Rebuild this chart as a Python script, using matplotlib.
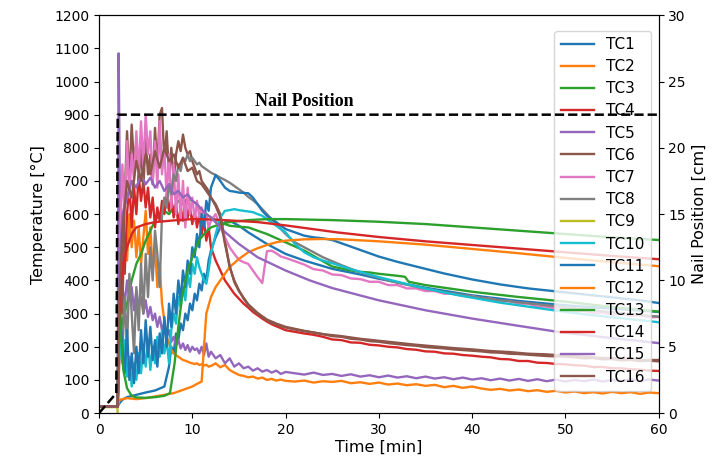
import numpy as np
import matplotlib.pyplot as plt

# logging times for the noisy channels [min]
t_grid = np.concatenate([[0, 1.9, 2.0, 2.1],
                         np.arange(2.25, 12.01, 0.25),
                         np.arange(12.5, 20.01, 0.5),
                         np.arange(21, 61, 1)])

# channels read on t_grid (head, 2.25-12 in 1-min blocks, 12.5-20, 21-60)
tc2 = [20, 20, 20, 100,
       250, 400, 520, 460, 600, 500, 580, 470, 560, 450, 530, 610, 480, 560, 430, 500,
       380, 450, 330, 280, 230, 210, 190, 180, 175, 170, 165, 160, 158, 155, 152, 150,
       148, 150, 145, 147, 143, 146, 140, 142,
       150, 138, 145, 130, 122, 115, 112, 108, 110, 104, 107, 100, 103, 98, 101, 97,
       95, 98, 92, 96, 94, 97, 90, 93, 88, 92,
       86, 89, 84, 87, 82, 85, 78, 82, 76, 80,
       74, 70, 73, 68, 71, 66, 69, 64, 67, 62,
       65, 60, 63, 59, 64, 60, 63, 58, 62, 60]
tc4 = [20, 20, 20, 100,
       350, 500, 420, 600, 690, 560, 680, 600, 720, 640, 700, 620, 680, 590, 650, 560,
       620, 580, 640, 600, 660, 610, 650, 590, 630, 570, 620, 580, 640, 590, 620, 570,
       610, 560, 600, 540, 580, 520, 560, 500,
       460, 430, 400, 380, 360, 345, 330, 318, 305, 295, 285, 276, 268, 262, 256, 250,
       245, 240, 236, 230, 222, 220, 213, 212, 206, 204,
       200, 198, 193, 191, 186, 185, 180, 179, 175, 173,
       170, 168, 163, 162, 157, 157, 152, 151, 148, 147,
       144, 143, 139, 139, 135, 135, 132, 131, 128, 127]
tc5 = [20, 20, 20, 1085,
       600, 380, 330, 400, 340, 380, 310, 370, 320, 350, 300, 340, 290, 320, 280, 300,
       260, 290, 250, 270, 230, 250, 215, 230, 205, 220, 195, 210, 190, 205, 185, 200,
       190, 195, 180, 200, 175, 210, 170, 185,
       165, 175, 150, 165, 140, 150, 135, 140, 128, 135, 125, 130, 122, 128, 118, 124,
       120, 116, 122, 115, 118, 112, 117, 110, 114, 108,
       113, 107, 111, 105, 110, 104, 108, 102, 107, 101,
       105, 99, 104, 98, 103, 97, 102, 96, 101, 95,
       100, 96, 101, 95, 100, 96, 102, 97, 101, 98]
tc6 = [20, 20, 20, 150,
       400, 300, 650, 850, 700, 870, 750, 820, 700, 800, 680, 830, 720, 780, 690, 860,
       740, 900, 920, 760, 850, 720, 800, 700, 780, 820, 790, 840, 800, 780, 790, 760,
       740, 720, 730, 700, 690, 680, 670, 650,
       630, 600, 520, 440, 400, 370, 345, 325, 312, 300, 290, 280, 272, 268, 262, 258,
       252, 247, 243, 238, 232, 230, 224, 222, 217, 215,
       211, 208, 205, 203, 199, 197, 195, 192, 190, 188,
       186, 183, 182, 179, 178, 176, 174, 172, 171, 170,
       168, 165, 166, 162, 163, 159, 160, 157, 158, 156]
tc7 = [20, 20, 20, 200,
       500, 750, 600, 820, 650, 780, 700, 850, 720, 880, 740, 900, 780, 850, 700, 820,
       680, 880, 720, 800, 650, 780, 620, 750, 600, 720, 580, 700, 560, 680, 600, 650,
       580, 640, 590, 620, 570, 600, 560, 580,
       600, 560, 530, 500, 480, 462, 455, 450, 430, 410, 392, 488, 490, 482, 472, 468,
       458, 448, 434, 430, 418, 416, 406, 404, 396, 396,
       386, 386, 376, 376, 368, 368, 360, 360, 353, 353,
       345, 345, 338, 338, 330, 330, 321, 321, 314, 314,
       307, 308, 302, 303, 297, 299, 293, 295, 289, 290]
tc8 = [20, 20, 20, 100,
       250, 180, 350, 200, 420, 300, 180, 380, 250, 450, 300, 480, 350, 500, 400, 550,
       480, 380, 600, 650, 620, 690, 660, 720, 700, 750, 730, 770, 760, 780, 760, 770,
       760, 750, 755, 745, 740, 735, 730, 725,
       718, 710, 703, 695, 685, 675, 665, 652, 642, 630, 615, 600, 585, 570, 555, 540,
       515, 500, 485, 470, 458, 446, 435, 425, 416, 408,
       400, 393, 387, 381, 375, 370, 365, 360, 356, 352,
       348, 344, 340, 337, 334, 331, 328, 325, 322, 319,
       316, 313, 310, 307, 304, 301, 298, 296, 293, 291]
tc10 = [20, 20, 20, 350,
        200, 150, 220, 110, 170, 80, 150, 100, 180, 120, 200, 140, 220, 130, 200, 150,
        230, 170, 250, 180, 220, 150, 250, 300, 270, 350, 320, 380, 340, 420, 380, 450,
        420, 470, 440, 420, 400, 390, 430, 480,
        540, 590, 610, 612, 615, 612, 610, 608, 606, 600, 595, 585, 575, 565, 555, 545,
        510, 485, 470, 460, 452, 443, 434, 426, 418, 410,
        403, 396, 389, 382, 376, 370, 364, 358, 353, 348,
        343, 338, 333, 329, 325, 321, 317, 313, 309, 305,
        302, 298, 295, 292, 289, 286, 283, 280, 277, 274]
tc11 = [20, 20, 20, 380,
        300, 200, 120, 250, 100, 180, 90, 200, 120, 250, 150, 280, 170, 260, 160, 220,
        140, 240, 180, 290, 200, 330, 260, 360, 300, 400, 340, 430, 380, 460, 420, 500,
        470, 540, 500, 600, 560, 640, 610, 680,
        718, 700, 680, 670, 668, 665, 664, 663, 650, 630, 610, 595, 585, 576, 565, 555,
        545, 535, 530, 527, 522, 512, 502, 492, 482, 472,
        464, 456, 449, 442, 435, 428, 421, 415, 409, 403,
        398, 393, 388, 384, 380, 376, 373, 370, 367, 364,
        361, 358, 355, 352, 349, 346, 343, 340, 336, 332]

# channels read at their own times: (min, degC)
tc1 = [(0, 20), (1.9, 20), (2.0, 20), (2.2, 30), (2.5, 40), (3, 48), (4, 55), (5, 62),
       (6, 68), (7, 80), (7.5, 140), (7.75, 200), (8, 180), (8.25, 240), (8.5, 220),
       (8.75, 270), (9, 250), (9.25, 300), (9.5, 280), (9.75, 330), (10, 310),
       (10.25, 360), (10.5, 340), (10.75, 390), (11, 370), (11.25, 420), (11.5, 400),
       (11.75, 460), (12, 490), (12.5, 530), (13, 560), (13.5, 575), (14, 580),
       (15, 565), (16, 545), (18, 510), (20, 480), (22, 460), (25, 435), (28, 418),
       (30, 405), (35, 378), (40, 355), (45, 338), (50, 325), (55, 315), (60, 305)]
tc3 = [(0, 20), (1.9, 20), (2.0, 20), (2.1, 200), (2.5, 280), (3, 330), (3.5, 400),
       (4, 450), (4.5, 480), (5, 520), (5.5, 550), (6, 580), (6.5, 600), (7, 610),
       (7.5, 600), (8, 620), (8.5, 640), (9, 630), (9.5, 650), (10, 640), (10.5, 630),
       (11, 610), (12, 590), (13, 575), (14, 565), (15, 562), (16, 560), (18, 540),
       (20, 515), (22, 490), (25, 442), (27, 430), (28, 426), (29, 424), (30, 420),
       (31, 417), (32, 414), (32.8, 411), (33.2, 396), (35, 386), (40, 366), (45, 350),
       (50, 336), (55, 320), (60, 306)]
tc9 = [(0, 18), (1.95, 18), (2.0, 0)]
tc12 = [(0, 20), (1.9, 20), (2.0, 20), (2.2, 40), (3, 45), (4, 42), (5, 45), (6, 50),
        (7, 55), (8, 60), (9, 70), (10, 80), (10.5, 88), (11, 95), (11.25, 200),
        (11.5, 300), (12, 350), (12.5, 380), (13, 400), (14, 440), (15, 465), (16, 485),
        (17, 497), (18, 507), (19, 515), (20, 520), (22, 524), (24, 525), (26, 524),
        (28, 521), (30, 518), (35, 508), (40, 495), (45, 482), (50, 468), (55, 455),
        (60, 443)]
tc13 = [(0, 20), (1.9, 20), (2.0, 20), (2.1, 380), (2.3, 250), (2.6, 130), (3, 75),
        (3.5, 52), (4, 47), (5, 46), (6, 48), (7, 52), (7.6, 60), (8.1, 150), (8.5, 260),
        (8.9, 350), (9.5, 430), (10, 470), (10.7, 520), (11.4, 545), (12, 560), (13, 570),
        (14, 576), (16, 582), (18, 585), (20, 585), (25, 582), (30, 577), (35, 570),
        (40, 560), (45, 550), (50, 540), (55, 530), (60, 522)]
tc14 = [(0, 20), (1.9, 20), (2.0, 20), (2.1, 250), (2.3, 380), (2.6, 450), (3, 500),
        (3.5, 540), (4, 560), (5, 570), (6, 576), (8, 581), (10, 585), (12, 584),
        (14, 581), (17, 576), (20, 566), (25.5, 545), (30, 531), (35, 518), (40, 507),
        (45, 496), (50, 485), (55, 474), (60, 464)]
tc15 = [(0, 20), (1.9, 20), (2.0, 20), (2.1, 400), (2.5, 600), (3, 650), (3.5, 700),
        (4, 680), (4.5, 720), (5, 690), (5.5, 710), (6, 680), (6.5, 700), (7, 670),
        (7.5, 690), (8, 660), (8.5, 670), (9, 650), (9.5, 660), (10, 640), (10.5, 630),
        (11, 615), (11.5, 600), (12, 590), (12.5, 575), (13, 560), (13.5, 546), (15, 510),
        (17, 470), (20, 430), (22.6, 400), (25, 377), (30, 340), (35, 310), (40, 285),
        (45, 263), (49.4, 244), (55, 226), (60, 211)]
tc16 = [(0, 20), (1.9, 20), (2.0, 20), (2.1, 300), (2.5, 550), (3, 700), (3.5, 650),
        (4, 760), (4.5, 700), (5, 780), (5.5, 720), (6, 790), (6.5, 740), (7, 800),
        (7.5, 760), (8, 780), (8.5, 740), (9, 770), (9.5, 730), (10, 740), (10.5, 700),
        (11, 690), (11.5, 670), (12, 650), (12.5, 625), (13, 590), (13.5, 510), (14, 445),
        (14.5, 395), (15, 368), (16, 328), (17, 302), (18, 282), (19, 270), (20, 260),
        (22, 248), (24, 238), (26, 232), (28, 224), (30, 218), (32, 212), (34, 206),
        (36, 201), (38, 196), (40, 192), (42, 187), (44, 184), (46, 179), (48, 177),
        (50, 173), (52, 170), (54, 166), (56, 165), (58, 160), (60, 160)]

# nail position [cm]
nail_t = [0, 1.85, 2.0, 60]
nail_cm = [0, 1.5, 22.5, 22.5]

channels = [tc1, tc2, tc3, tc4, tc5, tc6, tc7, tc8, tc9, tc10,
            tc11, tc12, tc13, tc14, tc15, tc16]

fig, ax = plt.subplots(figsize=(7.23, 4.61), dpi=100)
fig.subplots_adjust(left=0.137, right=0.911, bottom=0.104, top=0.967)

for i, ch in enumerate(channels):
    if isinstance(ch[0], tuple):
        x, y = zip(*ch)
    else:
        x, y = t_grid, ch
    ax.plot(x, y, lw=1.7, label=f'TC{i + 1}')

ax.set_xlim(0, 60)
ax.set_ylim(0, 1200)
ax.set_yticks(range(0, 1201, 100))
ax.set_xlabel('Time [min]', fontsize=11.5, labelpad=2)
ax.set_ylabel('Temperature [°C]', fontsize=11.5, labelpad=6)
ax.tick_params(labelsize=10)
ax.legend(loc='upper right', bbox_to_anchor=(1.0, 0.98), fontsize=11,
          labelspacing=0.47, handlelength=2.2)
ax.text(22, 925, 'Nail Position', family='Liberation Serif', weight='bold',
        fontsize=13, ha='center')

ax2 = ax.twinx()
ax2.plot(nail_t, nail_cm, 'k--', lw=1.8)
ax2.set_ylim(0, 30)
ax2.set_ylabel('Nail Position [cm]', fontsize=11.5)
ax2.tick_params(labelsize=10)

fig.savefig('out.png', dpi=100)
